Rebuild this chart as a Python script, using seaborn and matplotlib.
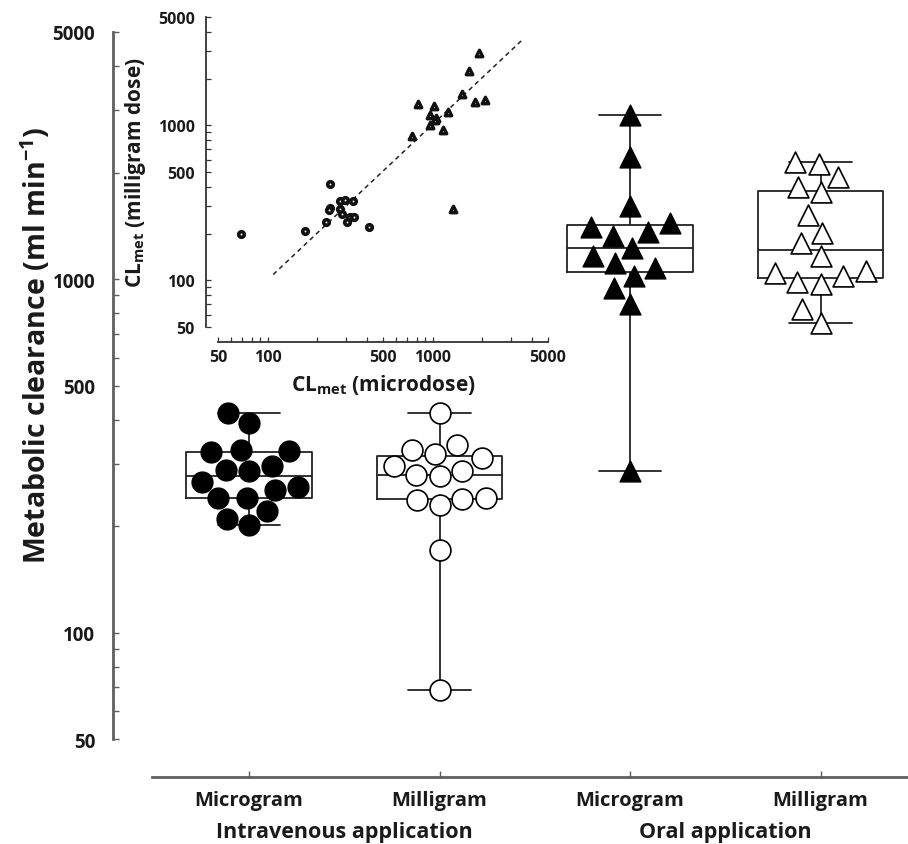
import matplotlib
matplotlib.use("Agg")
import matplotlib.pyplot as plt
import matplotlib.transforms as mtrans
from matplotlib.ticker import FixedLocator, NullFormatter
import seaborn as sns
import pandas as pd

# ---------------- data ----------------
groups = ["IV Microgram", "IV Milligram", "Oral Microgram", "Oral Milligram"]
tick_labels = ["Microgram", "Milligram", "Microgram", "Milligram"]
route_labels = ["Intravenous application", "Oral application"]

iv_micro = [418, 392, 329, 324, 326, 296, 287, 289, 258, 253, 267, 240, 240, 221, 201, 210]
iv_milli = [418, 340, 320, 296, 279, 277, 287, 312, 329, 239, 229, 237, 240, 171, 69]
oral_micro = [2911, 2215, 1610, 1441, 1359, 1404, 1324, 1224, 1162, 1075, 1111, 1020, 944, 850, 286]
oral_milli = [2118, 2144, 1945, 1822, 1760, 1518, 1350, 1265, 1162, 1040, 981, 968, 1020, 1054, 823, 751]

# inset: microdose (x) vs milligram dose (y)
inset_iv_x = [69, 169, 237, 226, 237, 235, 274, 296, 327, 274, 282, 315, 335, 301, 413]
inset_iv_y = [200, 209, 417, 239, 294, 284, 325, 330, 327, 287, 266, 257, 255, 239, 220]
inset_oral_x = [746, 818, 963, 968, 1013, 1047, 1037, 1151, 1245, 1334, 1499, 1668, 1806, 1918, 2084]
inset_oral_y = [849, 1375, 1010, 1161, 1328, 1116, 1077, 937, 1220, 287, 1604, 2239, 1409, 2942, 1452]
line_x = [108, 3475]
line_y = [109, 3540]

major_ticks = [50, 100, 500, 1000, 5000]
minor_ticks = [60, 70, 80, 90, 200, 300, 400, 600, 700, 800, 900, 2000, 3000, 4000]

# ---------------- frame ----------------
sns.set_theme(style="white")
WT = "bold"
FAM = "Open Sans"
plt.rcParams["font.family"] = [FAM, "DejaVu Sans"]
plt.rcParams["font.weight"] = WT
plt.rcParams["mathtext.fontset"] = "custom"
plt.rcParams["mathtext.rm"] = FAM + ":bold"
plt.rcParams["mathtext.it"] = FAM + ":bold"
plt.rcParams["mathtext.bf"] = FAM + ":bold"
TXT = "#1a1a1a"

DPI = 100
W, H = 908, 845
fig = plt.figure(figsize=(W / DPI, H / DPI), dpi=DPI)

def px_axes(x0, y0, x1, y1):
    return [x0 / W, 1 - y1 / H, (x1 - x0) / W, (y1 - y0) / H]

ax = fig.add_axes(px_axes(152, 33, 908, 740))
ax.set_facecolor("none")
ax.set_yscale("log")

df = pd.DataFrame({
    "group": [groups[0]] * len(iv_micro) + [groups[1]] * len(iv_milli)
             + [groups[2]] * len(oral_micro) + [groups[3]] * len(oral_milli),
    "value": iv_micro + iv_milli + oral_micro + oral_milli,
})

line_kw = dict(color="#222222", linewidth=1.3)
sns.boxplot(data=df, x="group", y="value", order=groups, whis=(0, 100),
            width=0.66, fill=False, showfliers=False, ax=ax,
            boxprops=line_kw, whiskerprops=line_kw, capprops=line_kw,
            medianprops=line_kw, color="#222222", linewidth=1.3)

styles = {
    groups[0]: dict(marker="o", size=15, color="black", edgecolor="black", linewidth=1),
    groups[1]: dict(marker="o", size=15, color="white", edgecolor="black", linewidth=1.2),
    groups[2]: dict(marker="^", size=15, color="black", edgecolor="black", linewidth=1),
    groups[3]: dict(marker="^", size=15, color="white", edgecolor="black", linewidth=1.2),
}
for g in groups:
    sub = df[df["group"] == g]
    sns.swarmplot(data=sub, x="group", y="value", order=groups, ax=ax,
                  warn_thresh=1.0, zorder=3, **styles[g])

ax.set_xlim(-0.509, 3.459)
ax.set_ylim(50, 5000)
ax.yaxis.set_major_locator(FixedLocator(major_ticks))
ax.yaxis.set_minor_locator(FixedLocator(minor_ticks))
ax.yaxis.set_minor_formatter(NullFormatter())
ax.set_yticklabels([str(t) for t in major_ticks])
ax.set_xticks(range(len(groups)))
ax.set_xticklabels(tick_labels)

for s in ["top", "right"]:
    ax.spines[s].set_visible(False)
spine_col = "#5f5f5f"
ax.spines["left"].set_position(("outward", 28))
ax.spines["left"].set_bounds(50, 5000)
ax.spines["bottom"].set_position(("outward", 27.4))
for s in ["left", "bottom"]:
    ax.spines[s].set_color(spine_col)
    ax.spines[s].set_linewidth(2.0)

ax.tick_params(axis="y", which="both", direction="in", length=4, width=1,
               color=spine_col, labelsize=13.5, pad=13, left=True)
ax.tick_params(axis="x", which="both", direction="in", length=4, width=1,
               color=spine_col, labelsize=14.5, pad=9, bottom=True)
for lab in ax.get_xticklabels() + ax.get_yticklabels():
    lab.set_fontweight(WT)
    lab.set_color(TXT)

ax.set_xlabel("")
ax.set_ylabel("Metabolic clearance (ml min$^{-1}$)", fontsize=20.5,
              fontweight=WT, color=TXT, va="center")
ax.yaxis.set_label_coords((36 - 152) / 756, (740 - 345) / 707)

trans = mtrans.blended_transform_factory(ax.transData, ax.transAxes)
for xpos, lab in zip([0.5, 2.5], route_labels):
    ax.text(xpos, (740 - 833) / 707, lab, transform=trans, ha="center",
            va="center", fontsize=15.5, fontweight=WT, color=TXT)

# ---------------- inset ----------------
ins = fig.add_axes(px_axes(218, 18, 548, 328))
ins.set_facecolor("none")
ins.set_xscale("log")
ins.set_yscale("log")
sns.lineplot(x=line_x, y=line_y, ax=ins, color="#222222", linewidth=1.1,
             linestyle=(0, (3, 2.5)))
sns.scatterplot(x=inset_iv_x, y=inset_iv_y, ax=ins, marker="o", s=16,
                color="white", edgecolor="#111111", linewidth=2.6, zorder=3)
sns.scatterplot(x=inset_oral_x, y=inset_oral_y, ax=ins, marker="^", s=22,
                color="white", edgecolor="#111111", linewidth=2.4, zorder=3)
ins.set_xlim(50, 5000)
ins.set_ylim(50, 5000)
for a in (ins.xaxis, ins.yaxis):
    a.set_major_locator(FixedLocator(major_ticks))
    a.set_minor_locator(FixedLocator(minor_ticks))
    a.set_minor_formatter(NullFormatter())
ins.set_xticklabels([str(t) for t in major_ticks])
ins.set_yticklabels([str(t) for t in major_ticks])
for s in ["top", "right"]:
    ins.spines[s].set_visible(False)
ins.spines["left"].set_position(("outward", 8.6))
ins.spines["bottom"].set_position(("outward", 10.8))
for s in ["left", "bottom"]:
    ins.spines[s].set_color("#333333")
    ins.spines[s].set_linewidth(1.3)
ins.tick_params(axis="both", which="both", direction="in", length=3.5, width=0.9,
                color="#333333", labelsize=11.5, left=True, bottom=True)
ins.tick_params(axis="y", pad=8)
ins.tick_params(axis="x", pad=5)
for lab in ins.get_xticklabels() + ins.get_yticklabels():
    lab.set_fontweight(WT)
    lab.set_color(TXT)
ins.set_xlabel("CL$_{\\mathregular{met}}$ (microdose)", fontsize=15,
               fontweight=WT, color=TXT)
ins.set_ylabel("CL$_{\\mathregular{met}}$ (milligram dose)", fontsize=15,
               fontweight=WT, color=TXT, va="center")
ins.xaxis.set_label_coords(0.5, (328 - 385) / 310)
ins.yaxis.set_label_coords((135 - 218) / 330, 0.5)
ins.xaxis.label.set_va("center")

fig.savefig("out.png", dpi=DPI)
